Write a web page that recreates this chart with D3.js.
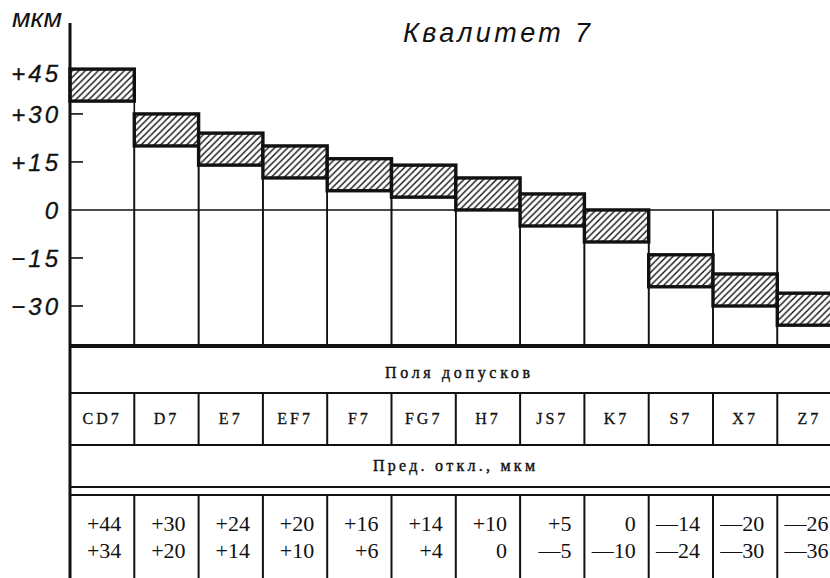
<!DOCTYPE html>
<html><head><meta charset="utf-8">
<script src="https://cdn.jsdelivr.net/npm/d3@7"></script>
<style>html,body{margin:0;padding:0;background:#fff;}svg{display:block;}</style>
</head><body>
<script>
const categories = ["CD7","D7","E7","EF7","F7","FG7","H7","JS7","K7","S7","X7","Z7"];
const upperDev = [44,30,24,20,16,14,10,5,0,-14,-20,-26];
const lowerDev = [34,20,14,10,6,4,0,-5,-10,-24,-30,-36];
const yTicks = [45,30,15,0,-15,-30];
const title = "Квалитет 7";
const unitLabel = "мкм";
const rowTitle1 = "Поля допусков";
const rowTitle2 = "Пред. откл., мкм";

const W = 830, H = 578;
const svg = d3.select("body").append("svg").attr("width", W).attr("height", H);
const ink = "#111";

const x = d3.scaleBand().domain(categories).range([70, 841.6]).paddingInner(0).paddingOuter(0);
const y = d3.scaleLinear().domain([-42.5, 58.4]).range([346, 23]);
const chartBottom = y(-42.5);

const defs = svg.append("defs");
const pat = defs.append("pattern").attr("id","hatch").attr("patternUnits","userSpaceOnUse")
  .attr("width",6.5).attr("height",6.5);
pat.append("rect").attr("width",6.5).attr("height",6.5).attr("fill","#fff");
pat.append("path").attr("d","M-1,1 l2,-2 M0,6.5 l6.5,-6.5 M5.5,7.5 l2,-2")
  .attr("stroke",ink).attr("stroke-width",1.4);

const data = categories.map((c,i)=>({c, hi:upperDev[i], lo:lowerDev[i]}));

// zero line
svg.append("line").attr("x1",70).attr("x2",W).attr("y1",y(0)).attr("y2",y(0))
  .attr("stroke",ink).attr("stroke-width",1.6);

// column separator lines in chart area
const g = svg.append("g");
data.forEach(d=>{
  const top = y(Math.max(d.hi,0));
  [x(d.c), x(d.c)+x.bandwidth()].forEach(xx=>{
    g.append("line").attr("x1",xx).attr("x2",xx).attr("y1",top).attr("y2",chartBottom)
      .attr("stroke",ink).attr("stroke-width",1.6);
  });
});

// tolerance boxes
svg.append("g").selectAll("rect").data(data).join("rect")
  .attr("x",d=>x(d.c)).attr("width",x.bandwidth())
  .attr("y",d=>y(d.hi)).attr("height",d=>y(d.lo)-y(d.hi))
  .attr("fill","url(#hatch)").attr("stroke",ink).attr("stroke-width",3.4);

// y axis
svg.append("line").attr("x1",70).attr("x2",70).attr("y1",23).attr("y2",H)
  .attr("stroke",ink).attr("stroke-width",3);
const axisFont = "'Liberation Sans', 'DejaVu Sans', sans-serif";
yTicks.forEach((t,i)=>{
  if (t!==0 && i>0) {
    svg.append("line").attr("x1",70).attr("x2",83).attr("y1",y(t)).attr("y2",y(t))
      .attr("stroke",ink).attr("stroke-width",1.6);
  }
  const lbl = t>0 ? "+" + t : (t<0 ? "\u2212" + Math.abs(t) : "0");
  svg.append("text").attr("x",61).attr("y",y(t) + (i===0?7:0)).attr("dy","0.36em")
    .attr("text-anchor","end").attr("font-family",axisFont).attr("font-style","italic")
    .attr("font-size",24).attr("letter-spacing",3).attr("fill",ink)
    .attr("stroke",ink).attr("stroke-width",0.3).text(lbl);
});
svg.append("text").attr("x",12).attr("y",27).attr("font-family",axisFont).attr("font-style","italic")
  .attr("font-size",25).attr("textLength",50).attr("lengthAdjust","spacingAndGlyphs").attr("fill",ink).text(unitLabel);
svg.append("text").attr("x",403).attr("y",42).attr("font-family",axisFont).attr("font-style","italic")
  .attr("font-size",27).attr("textLength",187).attr("lengthAdjust","spacing").attr("fill",ink).text(title);

// table
const serif = "'Liberation Serif', 'DejaVu Serif', serif";
const hl = (yy, w)=> svg.append("line").attr("x1",70).attr("x2",W).attr("y1",yy).attr("y2",yy)
  .attr("stroke",ink).attr("stroke-width",w);
hl(chartBottom, 4);
hl(393, 2); hl(445, 2.2); hl(487, 2.2); hl(495, 2.2);
categories.forEach(c=>{
  const xx = x(c)+x.bandwidth();
  [[393,445],[495,H]].forEach(([a,b])=>{
    svg.append("line").attr("x1",xx).attr("x2",xx).attr("y1",a).attr("y2",b)
      .attr("stroke",ink).attr("stroke-width",2);
  });
});
svg.append("text").attr("x",385).attr("y",378).attr("font-family",serif)
  .attr("font-size",16).attr("textLength",145).attr("lengthAdjust","spacing").attr("fill",ink)
  .attr("stroke",ink).attr("stroke-width",0.4).text(rowTitle1);
svg.append("text").attr("x",373).attr("y",471).attr("font-family",serif)
  .attr("font-size",16).attr("textLength",162).attr("lengthAdjust","spacing").attr("fill",ink)
  .attr("stroke",ink).attr("stroke-width",0.4).text(rowTitle2);

svg.append("g").selectAll("text").data(categories).join("text")
  .attr("x",c=>x(c)+x.bandwidth()/2).attr("y",418).attr("dy","0.36em")
  .attr("text-anchor","middle").attr("font-family",serif).attr("font-size",16)
  .attr("letter-spacing",3).attr("fill",ink).attr("stroke",ink).attr("stroke-width",0.3).text(c=>c);

const fmt = v => v>0 ? "+"+v : (v<0 ? "\u2014"+Math.abs(v) : "0");
[[upperDev,523],[lowerDev,550]].forEach(([arr,yy])=>{
  svg.append("g").selectAll("text").data(arr).join("text")
    .attr("x",(v,i)=>x(categories[i])+x.bandwidth()-13).attr("y",yy).attr("dy","0.36em")
    .attr("text-anchor","end").attr("font-family",serif).attr("font-size",22)
    .attr("fill",ink).text(fmt);
});
</script>
</body></html>
